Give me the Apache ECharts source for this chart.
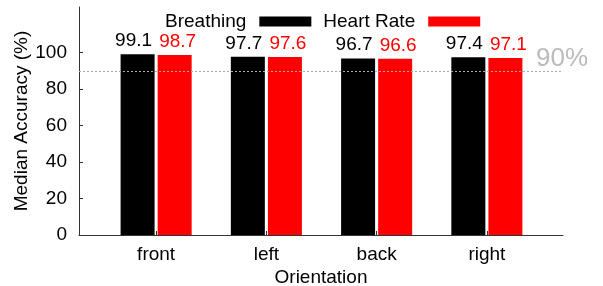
<!DOCTYPE html>
<html>
<head>
<meta charset="utf-8">
<script src="https://cdn.jsdelivr.net/npm/echarts@6/dist/echarts.min.js"></script>
<style>
    html, body { margin: 0; padding: 0; background: #fff; }
    #main { width: 603px; height: 286px; }
</style>
</head>
<body>
<div id="main"></div>
<script>
// 数据
var categories = ['front', 'left', 'back', 'right'];
var breathing = [99.1, 97.7, 96.7, 97.4];
var heartRate = [98.7, 97.6, 96.6, 97.1];
var yTicks = [0, 20, 40, 60, 80, 100];
var threshold = 90;

var font = "'Liberation Sans', Arial, Helvetica, sans-serif";

var myChart = echarts.init(document.getElementById('main'));

var option = {
    animation: false,
    textStyle: { fontFamily: font },
    color: ['#000000', '#ff0000'],
    legend: {
        left: 160,
        top: 7,
        align: 'right',
        icon: 'rect',
        itemWidth: 52,
        itemHeight: 10,
        itemGap: 12,
        textStyle: { fontSize: 19, color: '#000', fontFamily: font, padding: [0, 8, 0, 0] },
        data: ['Breathing', 'Heart Rate']
    },
    grid: [
        // 外框: 坐标轴线 + 90% 线
        { left: 79, right: 40, top: 7, bottom: 51, outerBoundsMode: 'none', containLabel: false },
        // 柱子所在区域
        { left: 101, right: 61, top: 7, bottom: 51, outerBoundsMode: 'none', containLabel: false }
    ],
    xAxis: [
        {
            gridIndex: 0,
            type: 'value',
            min: 0,
            max: 1,
            name: 'Orientation',
            nameLocation: 'middle',
            nameGap: 33,
            nameMoveOverlap: false,
            nameTextStyle: { fontSize: 19, color: '#000', fontFamily: font },
            axisLine: { show: true, onZero: false, lineStyle: { color: '#333', width: 1 } },
            axisTick: { show: false },
            axisLabel: { show: false },
            splitLine: { show: false }
        },
        {
            gridIndex: 1,
            type: 'category',
            data: categories,
            axisLine: { show: false },
            axisTick: { show: true, inside: true, length: 4, alignWithLabel: true, lineStyle: { color: '#333' } },
            axisLabel: { fontSize: 19, color: '#000', margin: 10, fontFamily: font },
            splitLine: { show: false }
        }
    ],
    yAxis: [
        {
            gridIndex: 0,
            type: 'value',
            min: 0,
            max: 125,
            interval: 20,
            name: 'Median Accuracy (%)',
            nameLocation: 'middle',
            nameGap: 48,
            nameMoveOverlap: false,
            nameTextStyle: { fontSize: 19, color: '#000', fontFamily: font },
            axisLine: { show: true, lineStyle: { color: '#333', width: 1 } },
            axisTick: { show: true, inside: true, length: 4, customValues: yTicks, lineStyle: { color: '#333' } },
            axisLabel: { fontSize: 19, color: '#000', margin: 12, customValues: yTicks, fontFamily: font },
            splitLine: { show: false }
        },
        {
            gridIndex: 1,
            type: 'value',
            min: 0,
            max: 125,
            interval: 20,
            show: false,
            splitLine: { show: false }
        }
    ],
    series: [
        {
            name: 'Breathing',
            type: 'bar',
            xAxisIndex: 1,
            yAxisIndex: 1,
            barWidth: 34,
            barGap: '9%',
            data: breathing,
            label: { show: true, position: 'top', distance: 4, offset: [-4, 0], fontSize: 19, color: '#000', fontFamily: font }
        },
        {
            name: 'Heart Rate',
            type: 'bar',
            xAxisIndex: 1,
            yAxisIndex: 1,
            barWidth: 34,
            data: heartRate,
            label: { show: true, position: 'top', distance: 4, offset: [3, 0], fontSize: 19, color: '#ff0000', fontFamily: font }
        },
        {
            name: 'threshold',
            type: 'line',
            xAxisIndex: 0,
            yAxisIndex: 0,
            data: [],
            silent: true,
            markLine: {
                silent: true,
                symbol: ['none', 'none'],
                lineStyle: { color: '#aaaaaa', type: [2, 2], width: 1 },
                label: {
                    show: true,
                    position: 'end',
                    distance: 0,
                    offset: [-27, -12],
                    formatter: '90%',
                    fontSize: 26,
                    color: '#bbbbbb',
                    fontFamily: font
                },
                data: [{ yAxis: threshold }]
            }
        }
    ]
};

myChart.setOption(option);
</script>
</body>
</html>
